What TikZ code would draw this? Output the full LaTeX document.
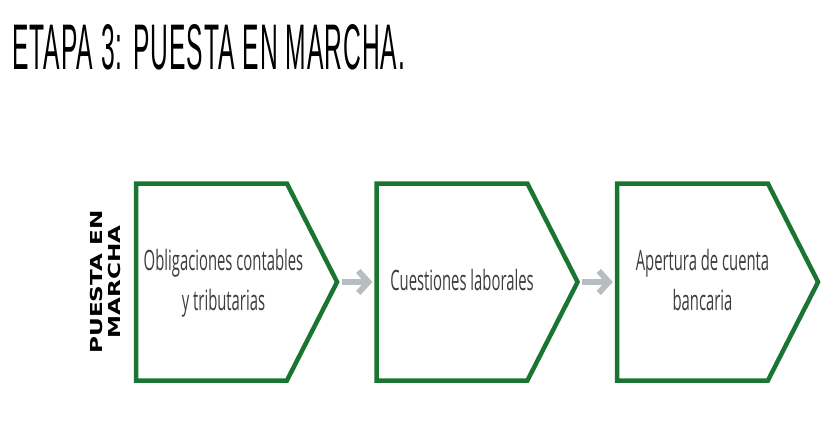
\documentclass[tikz,border=0pt]{standalone}
\usepackage{fontspec}
\usepackage{graphicx}
\setmainfont{Open Sans}
\newfontfamily\titulofont[LetterSpace=4]{Liberation Sans}
\newfontfamily\etiquetafont{DejaVu Sans}
\usetikzlibrary{shapes.symbols, arrows.meta}

\definecolor{verde}{RGB}{27,117,50}
\definecolor{gris}{RGB}{183,190,194}
\definecolor{textogris}{RGB}{60,60,60}

% texto estrecho de las etapas
\newcommand{\apretado}[1]{\scalebox{0.53}[1]{\begin{tabular}{@{}c@{}}#1\end{tabular}}}

\tikzset{
  etapa/.style={signal, signal to=east, signal pointer angle=126, draw=verde, line width=4.5pt,
    minimum width=201pt, minimum height=197pt, inner sep=0pt},
  texto/.style={text=textogris, inner sep=0pt, font=\fontsize{28}{40}\selectfont},
  flecha/.style={draw=gris, line width=6pt, -{Straight Barb[length=10pt,width=22pt]},
    shorten <=2pt, shorten >=2pt}
}

\begin{document}
\begin{tikzpicture}[x=1pt, y=-1pt]
	\useasboundingbox (0,0) rectangle (831,428);

	% Título
	\node[anchor=west, inner sep=0pt] (titulo) at (12,47)
		{\resizebox{393pt}{45pt}{\titulofont ETAPA 3: PUESTA EN MARCHA.}};

	% Etiqueta vertical
	\node[rotate=90, inner sep=0pt] (etiqueta) at (108,282)
		{\etiquetafont\bfseries\fontsize{16.5}{18}\selectfont\scalebox{1.4}[1]{\begin{tabular}{@{}c@{}}PUESTA EN\\MARCHA\end{tabular}}};

	% Etapas (centro = centro de la parte recta)
	\node[etapa] (obligaciones) at (211.5,282) {};
	\node[etapa] (laborales) at (452,282) {};
	\node[etapa] (apertura) at (692.5,282) {};

	% Textos de las etapas
	\node[texto] (tobligaciones) at ([xshift=12pt]obligaciones.center) {\apretado{Obligaciones contables\\y tributarias}};
	\node[texto] (tlaborales) at ([xshift=10pt]laborales.center) {\apretado{Cuestiones laborales}};
	\node[texto] (tapertura) at ([xshift=10pt]apertura.center) {\apretado{Apertura de cuenta\\bancaria}};

	% Flechas
	\draw[flecha] (obligaciones.east) -- (laborales.west);
	\draw[flecha] (laborales.east) -- (apertura.west);

\end{tikzpicture}
\end{document}
